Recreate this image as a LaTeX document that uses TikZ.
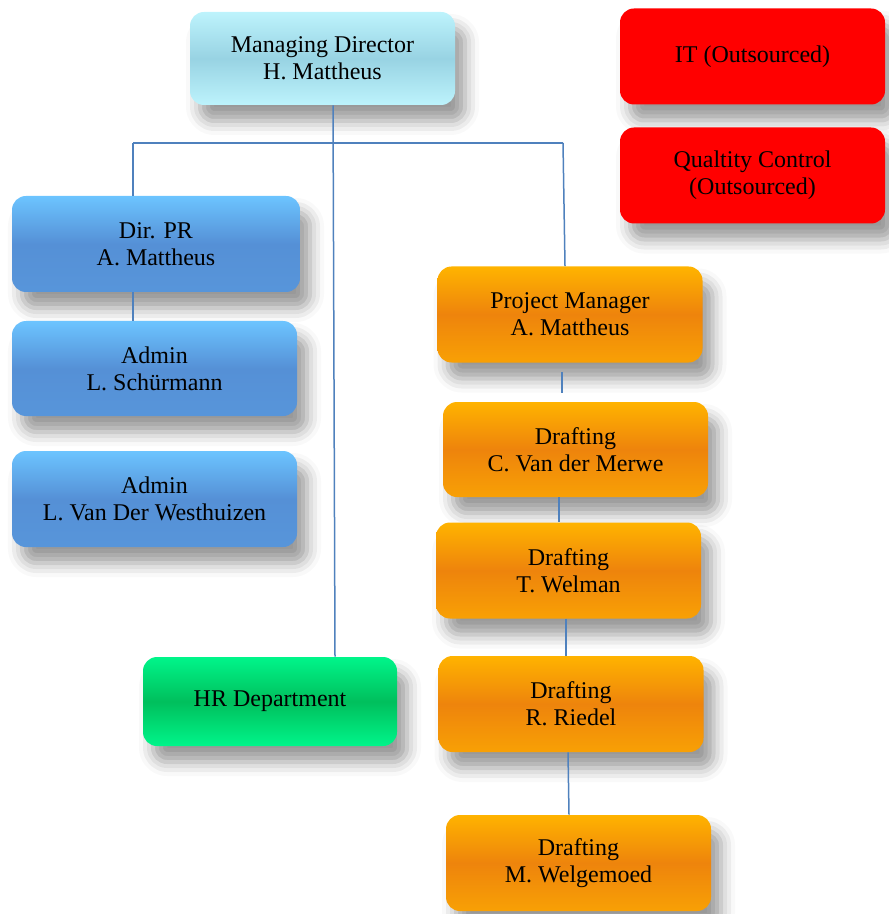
\documentclass[tikz,border=0pt]{standalone}
\usepackage{fontspec}
\setmainfont{Liberation Serif}
\usetikzlibrary{calc,shadows.blur}
\definecolor{linkblue}{HTML}{4F81BD}
\definecolor{cyanedge}{HTML}{BDF3FC}
\definecolor{cyanmid}{HTML}{98D3E3}
\definecolor{blueedge}{HTML}{6CC4FF}
\definecolor{bluemid}{HTML}{5590D6}
\definecolor{orangeedge}{HTML}{FFB300}
\definecolor{orangemid}{HTML}{EE840C}
\definecolor{greenedge}{HTML}{00F58A}
\definecolor{greenmid}{HTML}{00BF5C}

\begin{document}
\begin{tikzpicture}[x=0.5pt,y=-0.5pt,
	box/.style={rounded corners=7pt, align=center, inner sep=0pt,
		minimum width=132.5pt, minimum height=48pt,
		font=\fontsize{12}{13.5}\selectfont,
		blur shadow={shadow xshift=5pt, shadow yshift=-8pt, shadow opacity=40, shadow blur radius=7pt}},
	cyanbox/.style={box, top color=cyanedge, bottom color=cyanedge, middle color=cyanmid},
	bluebox/.style={box, top color=blueedge, bottom color=bluemid!90!blueedge, middle color=bluemid},
	orangebox/.style={box, top color=orangeedge, bottom color=orangeedge!60!orangemid, middle color=orangemid},
	greenbox/.style={box, top color=greenedge, bottom color=greenedge, middle color=greenmid},
	redbox/.style={box, fill=red},
	link/.style={draw=linkblue, line width=0.75pt}]

	\useasboundingbox (0,0) rectangle (888,914);

	% top level and outsourced units
	\node[cyanbox, minimum height=46.5pt] (md) at (322.5,58.5) {Managing Director\\H. Mattheus};
	\node[redbox] (it) at (752.5,56.5) {IT (Outsourced)};
	\node[redbox] (qc) at (752.5,175.5) {Qualtity Control\\(Outsourced)};

	% PR branch
	\node[bluebox, minimum width=144pt] (pr) at (156,244) {Dir. PR\\A. Mattheus};
	\node[bluebox, minimum width=142.5pt, minimum height=47.5pt] (ad1) at (154.5,368.5) {Admin\\L. Schürmann};
	\node[bluebox, minimum width=142.5pt] (ad2) at (154.5,499) {Admin\\L. Van Der Westhuizen};

	\node[greenbox, minimum width=127pt, minimum height=44.5pt] (hr) at (270,701.5) {HR Department};

	% project branch
	\node[orangebox] (pm) at (570,314.5) {Project Manager\\A. Mattheus};
	\node[orangebox, minimum height=47.5pt] (dr1) at (575.5,449.5) {Drafting\\C. Van der Merwe};
	\node[orangebox] (dr2) at (568.5,570.5) {Drafting\\T. Welman};
	\node[orangebox] (dr3) at (571,704) {Drafting\\R. Riedel};
	\node[orangebox] (dr4) at (578.5,863) {Drafting\\M. Welgemoed};

	% connectors
	\coordinate (busL) at (133,143);
	\coordinate (busR) at (563,143);
	\draw[link] (busL) -- (busR);
	\draw[link] ($(md.south)+(10.5,0)$) -- ($(hr.north)+(65,0)$);
	\draw[link] (busL) -- (busL |- pr.north);
	\draw[link] (busR) -- ($(pm.north)+(-5,0)$);
	\draw[link] ($(pr.south)+(-23,0)$) -- ($(ad1.north)+(-21.5,0)$);
	\draw[link] ($(pm.south)+(-8,9)$) -- ($(dr1.north)+(-13.5,-9)$);
	\draw[link] ($(dr1.south)+(-16.5,0)$) -- ($(dr2.north)+(-9.5,0)$);
	\draw[link] ($(dr2.south)+(-2.5,0)$) -- ($(dr3.north)+(-5,0)$);
	\draw[link] ($(dr3.south)+(-3,0)$) -- ($(dr4.north)+(-9.5,0)$);

\end{tikzpicture}
\end{document}
